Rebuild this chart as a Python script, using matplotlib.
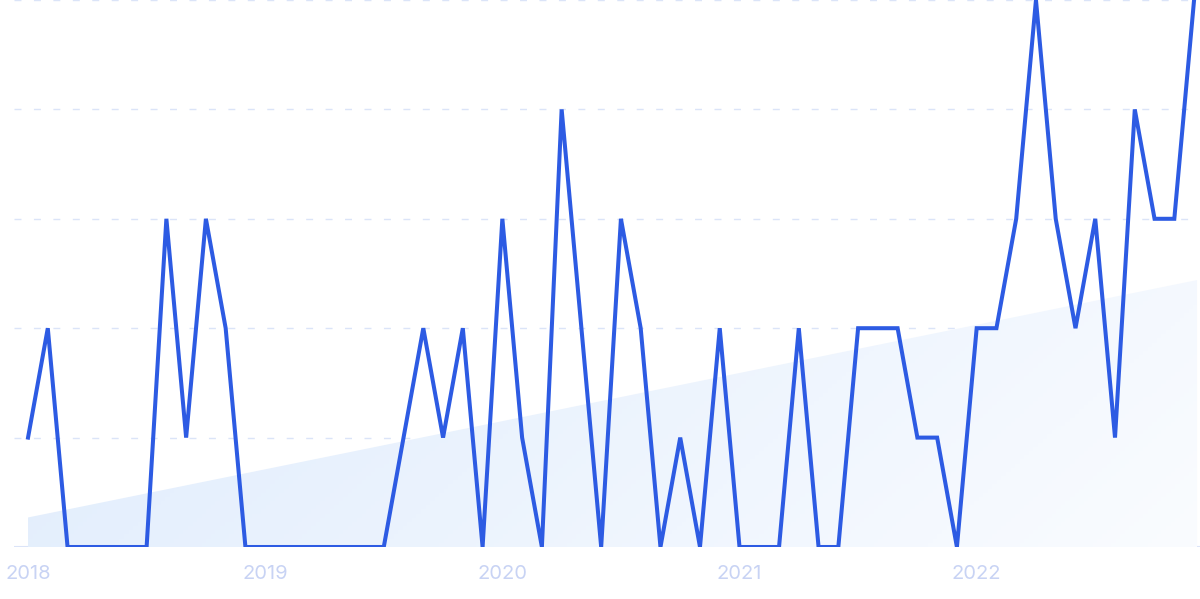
import numpy as np
import matplotlib
matplotlib.use("Agg")
import matplotlib.pyplot as plt
from matplotlib.patches import Polygon

values = [1, 2, 0, 0, 0, 0, 0, 3, 1, 3, 2, 0,
          0, 0, 0, 0, 0, 0, 0, 1, 2, 1, 2, 0,
          3, 1, 0, 4, 2, 0, 3, 2, 0, 1, 0, 2,
          0, 0, 0, 2, 0, 0, 2, 2, 2, 1, 1, 0,
          2, 2, 3, 5, 3, 2, 3, 1, 4, 3, 3, 5]
year_labels = ["2018", "2019", "2020", "2021", "2022"]
year_positions = [0, 12, 24, 36, 48]
trend_start = 0.27
trend_end = 2.44

x = np.arange(len(values))

fig = plt.figure(figsize=(12, 5.99), dpi=100)
ax = fig.add_axes([14/1200, 52/599, 1 - 14/1200, 547/599])
ax.set_xlim(-0.71, 59.3)
ax.set_ylim(0, 5)
ax.axis("off")

# gridlines
for yv in [1, 2, 3, 4, 5]:
    ax.axhline(yv, color="#dbe4f8", lw=1.0, dashes=(5, 9), zorder=1, clip_on=False)
ax.axhline(0, color="#dbe4f8", lw=1.5, zorder=1)

# trend area with gradient
xe = x[-1] + 0.15
poly = Polygon([[0, 0], [0, trend_start], [xe, trend_end], [xe, 0]], closed=True,
               facecolor="none", edgecolor="none")
ax.add_patch(poly)
nx, ny = 256, 64
gx = np.linspace(0, 1, nx)
gy = np.linspace(0, 1, ny)
GX, GY = np.meshgrid(gx, gy)
t = np.clip(0.8 * GX + 0.2 * (1 - GY), 0, 1)
c0 = np.array([0.875, 0.925, 0.99])
c1 = np.array([0.98, 0.988, 1.0])
img = c0[None, None, :] * (1 - t[..., None]) + c1[None, None, :] * t[..., None]
im = ax.imshow(img, extent=[0, xe, 0, trend_end], origin="lower", aspect="auto", zorder=2)
im.set_clip_path(poly)

ax.plot(x, values, color="#2d5be3", lw=2.9, zorder=3, solid_joinstyle="miter", clip_on=True)

for pos, lab in zip(year_positions, year_labels):
    ax.text(pos, -0.245, lab, ha="center", va="center", color="#c8d3f4",
            fontsize=14.5, family="Inter", transform=ax.transData, clip_on=False)

fig.savefig("out.png", dpi=100)
